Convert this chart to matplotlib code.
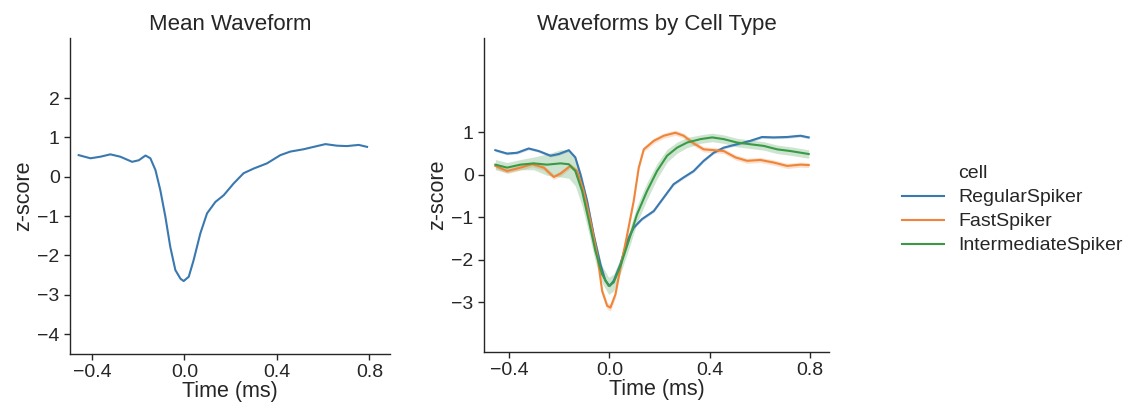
import matplotlib
matplotlib.use("Agg")
import matplotlib.pyplot as plt
from matplotlib.lines import Line2D

plt.rcParams["font.family"] = ["Liberation Sans", "DejaVu Sans"]

# mean waveform (left panel)
mean_t = [-0.457, -0.406, -0.363, -0.320, -0.277, -0.226, -0.197, -0.168, -0.147, -0.125,
          -0.104, -0.082, -0.061, -0.039, -0.017, -0.003, 0.019, 0.040, 0.069, 0.098,
          0.134, 0.170, 0.213, 0.256, 0.300, 0.357, 0.415, 0.458, 0.516, 0.559,
          0.610, 0.660, 0.703, 0.754, 0.790]
mean_z = [0.55, 0.47, 0.51, 0.57, 0.51, 0.38, 0.42, 0.54, 0.47, 0.17,
          -0.34, -1.02, -1.78, -2.37, -2.59, -2.65, -2.54, -2.12, -1.44, -0.93,
          -0.64, -0.47, -0.17, 0.09, 0.21, 0.34, 0.55, 0.64, 0.70, 0.76,
          0.83, 0.79, 0.78, 0.81, 0.76]

# cell types (right panel)
rs_t = [-0.455, -0.408, -0.368, -0.322, -0.282, -0.235, -0.202, -0.162, -0.136, -0.116,
        -0.089, -0.063, -0.036, -0.016, 0.001, 0.017, 0.044, 0.071, 0.097, 0.130,
        0.177, 0.217, 0.256, 0.296, 0.336, 0.376, 0.416, 0.456, 0.509, 0.562,
        0.609, 0.655, 0.709, 0.762, 0.795]
rs_z = [0.58, 0.50, 0.52, 0.62, 0.56, 0.45, 0.49, 0.58, 0.41, 0.02,
        -0.61, -1.40, -2.10, -2.49, -2.61, -2.49, -2.10, -1.55, -1.24, -1.04,
        -0.85, -0.53, -0.22, -0.06, 0.09, 0.33, 0.52, 0.64, 0.72, 0.80,
        0.89, 0.88, 0.89, 0.92, 0.88]
rs_ci = [0.03] * 35

fs_t = [-0.455, -0.408, -0.355, -0.308, -0.262, -0.222, -0.195, -0.156, -0.129, -0.103,
        -0.076, -0.049, -0.029, -0.009, 0.004, 0.024, 0.044, 0.071, 0.097, 0.117,
        0.137, 0.177, 0.217, 0.263, 0.296, 0.336, 0.376, 0.416, 0.456, 0.503,
        0.549, 0.602, 0.655, 0.709, 0.762, 0.795]
fs_z = [0.21, 0.09, 0.17, 0.25, 0.17, -0.05, 0.03, 0.21, 0.09, -0.38,
        -1.08, -1.87, -2.73, -3.08, -3.12, -2.81, -2.18, -1.40, -0.61, 0.17,
        0.60, 0.80, 0.92, 0.99, 0.92, 0.74, 0.60, 0.58, 0.56, 0.41,
        0.33, 0.35, 0.29, 0.21, 0.24, 0.23]
fs_ci = [0.06, 0.06, 0.06, 0.06, 0.06, 0.06, 0.06, 0.06, 0.06, 0.07,
         0.08, 0.08, 0.08, 0.08, 0.08, 0.08, 0.08, 0.08, 0.08, 0.07,
         0.06, 0.06, 0.06, 0.06, 0.06, 0.06, 0.06, 0.06, 0.06, 0.06,
         0.06, 0.06, 0.06, 0.06, 0.06, 0.06]

is_t = [-0.455, -0.408, -0.355, -0.302, -0.249, -0.195, -0.162, -0.136, -0.109, -0.082,
        -0.056, -0.029, -0.003, 0.017, 0.044, 0.077, 0.110, 0.150, 0.190, 0.230,
        0.270, 0.310, 0.363, 0.410, 0.456, 0.509, 0.562, 0.616, 0.669, 0.722, 0.795]
is_z = [0.24, 0.17, 0.24, 0.27, 0.24, 0.27, 0.25, 0.09, -0.38, -1.08,
        -1.79, -2.34, -2.61, -2.53, -2.14, -1.55, -0.93, -0.38, 0.09, 0.45,
        0.64, 0.76, 0.84, 0.88, 0.84, 0.76, 0.72, 0.68, 0.60, 0.56, 0.49]
is_ci = [0.12, 0.12, 0.12, 0.15, 0.25, 0.32, 0.33, 0.35, 0.35, 0.30,
         0.25, 0.20, 0.20, 0.20, 0.18, 0.20, 0.20, 0.20, 0.18, 0.15,
         0.13, 0.12, 0.10, 0.10, 0.10, 0.10, 0.10, 0.10, 0.10, 0.10, 0.10]

cells = ["RegularSpiker", "FastSpiker", "IntermediateSpiker"]
colors = ["#3a78b0", "#f0853a", "#3a9a45"]
series = [(rs_t, rs_z, rs_ci), (fs_t, fs_z, fs_ci), (is_t, is_z, is_ci)]

text_col = "#262626"
fig = plt.figure(figsize=(11.31, 4.03), dpi=100)
ax1 = fig.add_axes([0.062, 0.122, 0.283, 0.784])
ax2 = fig.add_axes([0.428, 0.127, 0.305, 0.779])

ax1.plot(mean_t, mean_z, color=colors[0], lw=1.5)
ax1.set_xlim(-0.494, 0.89)
ax1.set_ylim(-4.5, 3.53)
ax1.set_yticks([-4, -3, -2, -1, 0, 1, 2])
ax1.set_title("Mean Waveform", fontsize=16, color=text_col)

for (t, z, ci), c, name in zip(series, colors, cells):
    lo = [a - b for a, b in zip(z, ci)]
    hi = [a + b for a, b in zip(z, ci)]
    ax2.fill_between(t, lo, hi, color=c, alpha=0.25, lw=0)
    ax2.plot(t, z, color=c, lw=1.5, label=name)
ax2.set_xlim(-0.5, 0.876)
ax2.set_ylim(-4.16, 3.22)
ax2.set_yticks([-3, -2, -1, 0, 1])
ax2.set_title("Waveforms by Cell Type", fontsize=16, color=text_col)

for ax in (ax1, ax2):
    ax.set_xticks([-0.4, 0.0, 0.4, 0.8])
    ax.set_xlabel("Time (ms)", fontsize=15.5, color=text_col, labelpad=0)
    ax.set_ylabel("z-score", fontsize=15.5, color=text_col, labelpad=2)
    ax.tick_params(labelsize=14, colors=text_col, length=4, width=1)
    for s in ("top", "right"):
        ax.spines[s].set_visible(False)
    for s in ("left", "bottom"):
        ax.spines[s].set_color(text_col)
        ax.spines[s].set_linewidth(1)

handles = [Line2D([], [], color="none")] + [Line2D([], [], color=c, lw=1.5) for c in colors]
labels = ["cell"] + cells
fig.legend(handles, labels, loc="center left", bbox_to_anchor=(0.782, 0.48),
           frameon=False, fontsize=14, labelcolor=text_col, handlelength=2.15,
           handletextpad=0.75, labelspacing=0.33)

fig.savefig("out.png", dpi=100)
